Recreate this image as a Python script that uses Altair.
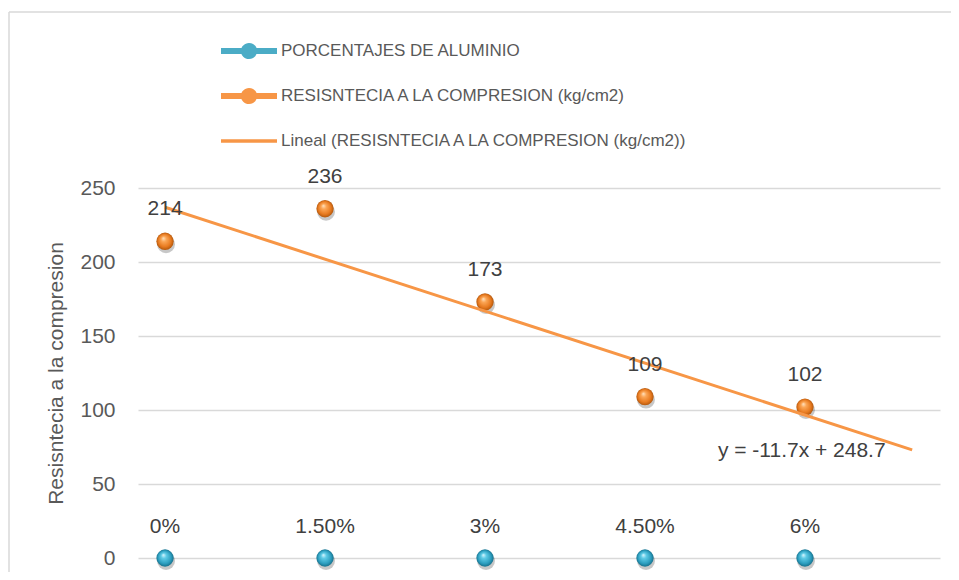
import altair as alt
import pandas as pd

# ---- data ----
categories = ["0%", "1.50%", "3%", "4.50%", "6%"]
positions = [1, 2, 3, 4, 5]
aluminio = [0, 0, 0, 0, 0]
resistencia = [214, 236, 173, 109, 102]
series_names = [
    "PORCENTAJES DE ALUMINIO",
    "RESISNTECIA A LA COMPRESION (kg/cm2)",
    "Lineal (RESISNTECIA A LA COMPRESION (kg/cm2))",
]
y_ticks = [0, 50, 100, 150, 200, 250]
trend_extent = [1, 5.67]
equation = ["y = -11.7x + 248.7"]
eq_x = [4.98]
eq_y = [72]

BLUE = "#4BACC6"
ORANGE = "#F79646"
FONT = "Liberation Sans"

df = pd.DataFrame({"pos": positions, "cat": categories, "alu": aluminio, "res": resistencia})
eq_df = pd.DataFrame({"x": eq_x, "y": eq_y, "t": equation})
leg_df = pd.DataFrame({"serie": series_names})
frame_df = pd.DataFrame({"k": [0]})

x_scale = alt.Scale(domain=[0.831, 5.844], nice=False, zero=False)
y_scale = alt.Scale(domain=[0, 250], nice=False)
Y_TITLE = "Resisntecia a la compresion"
y_axis = alt.Axis(
    values=y_ticks, grid=True, gridColor="#d9d9d9", gridWidth=1.3, domain=False,
    ticks=False, labelFont=FONT, labelFontSize=21, labelColor="#595959",
    labelPadding=23, title=Y_TITLE, titleFont=FONT, titleFontSize=21,
    titleFontWeight="normal", titleColor="#595959", titlePadding=13,
)


def X(field="pos"):
    return alt.X(f"{field}:Q", scale=x_scale, axis=None)


def Y(field):
    return alt.Y(f"{field}:Q", scale=y_scale, axis=y_axis, title=Y_TITLE)


def sphere(c0, c1, c2, c3):
    return alt.RadialGradient(
        gradient="radial",
        stops=[
            alt.GradientStop(color=c0, offset=0),
            alt.GradientStop(color=c1, offset=0.3),
            alt.GradientStop(color=c2, offset=0.75),
            alt.GradientStop(color=c3, offset=1),
        ],
        x1=0.4, y1=0.32, r1=0, x2=0.5, y2=0.5, r2=0.5,
    )


base = alt.Chart(df)

# chart frame (decoration)
frame_top = alt.Chart(frame_df).mark_rule(color="#d9d9d9", strokeWidth=1.5).encode(
    x=alt.value(-129), x2=alt.value(821), y=alt.value(-176)
)
frame_left = alt.Chart(frame_df).mark_rule(color="#d9d9d9", strokeWidth=1.5).encode(
    x=alt.value(-129), y=alt.value(-176), y2=alt.value(392)
)

shadow_blue = base.mark_circle(color="#000000", opacity=0.22, size=320, yOffset=3, xOffset=1).encode(
    x=X(), y=Y("alu")
)
shadow_orange = base.mark_circle(color="#000000", opacity=0.22, size=320, yOffset=3, xOffset=1).encode(
    x=X(), y=Y("res")
)
pts_blue = base.mark_circle(
    fill=sphere("#DDF7FF", "#5FCBE6", "#2C9EBF", "#17708B"), opacity=1, size=300
).encode(x=X(), y=Y("alu"))
pts_orange = base.mark_circle(
    fill=sphere("#FFE4C4", "#FBA656", "#E7791E", "#B2580E"), opacity=1, size=300
).encode(x=X(), y=Y("res"))

trend = base.transform_regression("pos", "res", extent=trend_extent).mark_line(
    color=ORANGE, strokeWidth=3
).encode(x=X(), y=Y("res"))

lab_blue = base.mark_text(font=FONT, fontSize=21, color="#404040", dy=-31, baseline="middle").encode(
    x=X(), y=Y("alu"), text="cat:N"
)
lab_orange = base.mark_text(font=FONT, fontSize=21, color="#404040", dy=-32, baseline="middle").encode(
    x=X(), y=Y("res"), text="res:Q"
)
eq_text = alt.Chart(eq_df).mark_text(font=FONT, fontSize=21, color="#404040", baseline="middle").encode(
    x=X("x"), y=Y("y"), text="t:N"
)

BALL = "M-1,-0.11 L1,-0.11 L1,0.11 L-1,0.11 Z M0.29,0 A0.29,0.29 0 1,1 -0.29,0 A0.29,0.29 0 1,1 0.29,0 Z"
LINE = "M-1,-0.06 L1,-0.06 L1,0.06 L-1,0.06 Z"
legend = alt.Legend(
    orient="none", legendX=83, legendY=-165, title=None, symbolSize=3136,
    labelFont=FONT, labelFontSize=17, labelColor="#595959", rowPadding=8,
    labelOffset=4, symbolStrokeWidth=0, symbolOpacity=1, padding=0,
    direction="vertical", labelLimit=700,
)
legend_layer = alt.Chart(leg_df).mark_point(filled=True, opacity=0).encode(
    color=alt.Color("serie:N", scale=alt.Scale(domain=series_names, range=[BLUE, ORANGE, ORANGE]), legend=legend),
    shape=alt.Shape("serie:N", scale=alt.Scale(domain=series_names, range=[BALL, BALL, LINE]), legend=legend),
)

chart = alt.layer(
    frame_top, frame_left, shadow_blue, shadow_orange, pts_blue, pts_orange,
    trend, lab_blue, lab_orange, eq_text, legend_layer,
).properties(
    width=802, height=370,
    padding={"left": 130, "top": 180, "right": 11, "bottom": 14},
    autosize=alt.AutoSizeParams(type="none"),
    background="white",
).configure_view(stroke=None)

chart.save("out.html", embed_options={"renderer": "svg", "actions": False})
